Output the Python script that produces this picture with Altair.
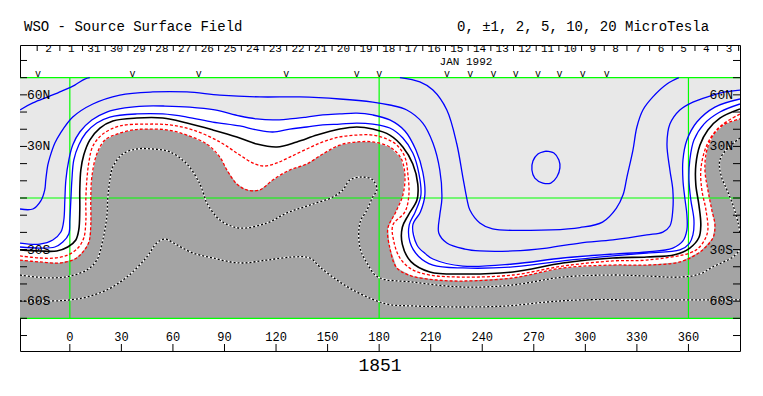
import altair as alt
import pandas as pd

# ---------------- data (longitude, latitude) ----------------
neutral_line = [(-29,-30.2), (-17.5,-30.8), (-7.6,-30.8), (-1.2,-28.5), (3.5,-24.4), (5.2,-18.6), (5.8,-7.0), (5.8,4.7), (6.4,16.3), (8.1,25.0), (11.6,33.7), (17.5,40.7), (25.0,44.8), (39.0,46.5), (54.1,46.5), (68.1,43.6), (83.2,39.6), (97.2,35.5), (108.8,31.4), (120.5,29.7), (132.1,32.6), (143.8,36.6), (157.1,40.1), (167.0,41.3), (176.3,40.1), (186.2,36.6), (193.8,29.7), (199.6,19.8), (202.5,8.1), (202.0,-1.2), (197.0,-9.9), (193.5,-17.0), (193.5,-27.0), (198.5,-37.0), (209.5,-43.0), (228.7,-44.2), (257.8,-43.0), (286.9,-37.8), (316.0,-34.9), (335.8,-34.3), (352.0,-33.0), (360.8,-29.1), (366.1,-23.0), (367.2,-15.7), (366.1,-4.1), (364.3,7.6), (364.3,19.2), (366.7,30.8), (371.3,39.6), (378.3,46.5), (390,51.8)]

plus1 = [(-29,-28.5), (-17.5,-29.1), (-8.7,-28.5), (-4.1,-25.6), (-0.6,-20.9), (0,-12.8), (0.6,-1.2), (1.2,10.5), (2.3,22.1), (5.2,30.8), (9.3,37.8), (15.7,43.6), (23.3,47.1), (39.0,48.9), (54.1,48.9), (68.1,47.1), (83.2,44.2), (98.9,41.9), (108.8,39.6), (118.1,38.4), (128.0,40.1), (137.9,41.3), (147.2,42.5), (157.1,43.0), (167.0,43.6), (176.3,43.0), (186.2,40.7), (193.8,34.9), (199.6,26.2), (203.1,14.5), (204.3,1.7), (201.0,-8.1), (197.5,-15.7), (197.9,-25.6), (203.0,-34.0), (211.3,-39.0), (228.7,-40.7), (257.8,-40.1), (286.9,-36.6), (316.0,-33.7), (335.8,-32.0), (355.0,-30.2), (360.5,-26.5), (362.6,-21.5), (363.2,-12.8), (361.4,-1.2), (360.3,10.5), (360.8,22.1), (363.2,33.7), (369.0,43.0), (378.3,50.0), (390,54.7)]

plus2 = [(-29,-26.2), (-17.5,-26.8), (-9.9,-24.4), (-5.2,-19.8), (-3.5,-12.8), (-2.9,-1.2), (-2.3,10.5), (-0.6,22.1), (1.7,30.8), (5.8,38.4), (12.8,45.4), (21.5,50.0), (32.0,52.4), (43.7,53.5), (55.3,53.5), (69.8,52.9), (84.4,51.2), (98.9,47.7), (108.8,46.0), (118.1,45.4), (128.0,46.0), (137.9,47.1), (147.2,48.3), (157.1,48.9), (167.0,49.4), (176.3,48.3), (186.2,45.4), (195.0,39.0), (201.4,27.9), (205.4,15.1), (206.6,1.7), (204.0,-8.1), (199.6,-15.7), (202.0,-27.3), (207.0,-32.5), (211.3,-35.5), (228.7,-39.6), (257.8,-38.4), (286.9,-34.9), (316.0,-32.6), (335.8,-31.4), (350.9,-29.1), (356.8,-25.0), (359.1,-18.6), (359.1,-9.9), (357.9,0), (356.8,10.5), (356.8,22.1), (359.1,33.7), (364.9,44.2), (375.4,52.9), (390,57.6)]

minus1 = [(-29,-33.7), (-17.5,-34.9), (-8.7,-34.9), (-1.2,-33.2), (4.7,-29.1), (8.1,-23.3), (9.3,-14.0), (9.3,-1.2), (9.9,10.5), (11.1,20.9), (13.4,30.2), (19.2,37.2), (29.1,41.9), (44.8,43.0), (58.2,42.5), (71.6,39.6), (87.3,32.6), (98.9,25.0), (107.7,19.8), (113.5,18.6), (120.5,20.4), (128.0,23.8), (137.9,28.5), (147.2,32.6), (157.1,35.5), (167.0,36.6), (176.3,36.6), (184.5,34.3), (190.3,30.8), (195.0,23.8), (196.7,14.0), (197.3,1.7), (195.0,-8.1), (188.0,-15.7), (188.5,-25.0), (192.1,-34.9), (199.0,-41.5), (209.5,-44.8), (228.7,-46.0), (257.8,-44.8), (286.9,-39.6), (316.0,-36.6), (335.8,-36.1), (360.8,-32.0), (366.0,-29.0), (369.6,-24.0), (371.3,-18.6), (370.2,-7.0), (367.8,4.7), (367.2,16.3), (369.6,27.9), (373.6,36.1), (379.5,42.5), (390,48.9)]

minus2 = [(-29,-36.1), (-17.5,-37.2), (-5.8,-37.8), (2.9,-35.5), (7.6,-31.4), (11.1,-25.6), (12.2,-15.7), (12.2,-0.6), (12.8,12.2), (15.7,25.6), (20.4,33.7), (27.4,37.2), (36.7,39.6), (44.8,40.1), (56.5,39.6), (68.1,36.6), (79.7,31.4), (87.3,23.8), (91.4,16.3), (97.2,8.1), (103.0,4.7), (110.6,4.7), (118.1,10.5), (128.0,16.3), (137.9,19.8), (147.2,25.6), (157.1,30.8), (167.0,32.6), (176.3,32.6), (186.2,29.7), (192.6,23.3), (195.0,13.4), (193.8,1.7), (189.7,-8.1), (185.1,-17.5), (186.0,-28.0), (190.3,-40.7), (199.0,-45.4), (213.6,-47.7), (228.7,-48.3), (257.8,-46.5), (286.9,-40.7), (316.0,-39.0), (335.8,-39.0), (355.0,-37.2), (366.7,-31.4), (374.2,-23.3), (375.4,-15.7), (373.6,-7.0), (371.3,4.7), (369.6,16.3), (370.7,27.9), (374.8,37.2), (381.2,43.0), (390,46.0)]

plus5 = [(-29,-6.4), (-21.5,-6.4), (-16.9,-1.7), (-14.6,4.7), (-14.0,10.5), (-12.8,19.2), (-11.6,23.8), (-8.7,32.0), (-5.8,37.2), (1.7,47.1), (13.4,54.7), (29.1,59.9), (48.3,61.7), (68.1,61.7), (87.3,59.9), (110.6,58.8), (133.9,58.8), (157.1,57.6), (176.3,55.8), (186.2,54.1), (196.1,51.2), (205.4,43.6), (211.3,32.0), (215.3,16.3), (216.5,-0.6), (215.3,-9.9), (214.7,-20.4), (219.4,-26.2), (229.9,-29.7), (238.6,-30.8), (257.8,-30.8), (277.6,-29.1), (296.8,-26.2), (316.0,-24.4), (335.8,-21.5), (345.1,-19.8), (349.2,-16.3), (350.9,-7.0), (350.9,4.7), (349.2,16.3), (347.5,31.4), (349.2,43.0), (355.0,51.2), (362.6,55.8), (372.5,59.3), (381.2,61.7), (390,62.8)]

plus10_right = [(192.1,70), (203.7,67.5), (211.3,62.8), (219.4,51.2), (225.2,31.4), (228.7,12.2), (231.1,-0.6), (232.8,-7.0), (238.6,-14.5), (246.0,-18.0), (262.0,-18.8), (280.0,-18.6), (296.8,-17.2), (310.0,-14.0), (318.0,-6.0), (322.0,2.0), (324.2,12.2), (327.7,27.9), (330.0,41.3), (333.5,51.2), (339.3,58.8), (347.5,66.3), (354.4,70)]

plus10_left = [(-29,51.2), (-21.5,55.3), (-11.6,59.3), (-4.7,62.2), (2.9,65.7), (8.7,69.2), (11.6,70)]

plus20_loop = [(277.0,27.3), (281.7,26.2), (284.6,22.1), (285.2,17.5), (283.4,12.2), (279.9,8.7), (275.3,8.7), (270.6,11.6), (268.9,16.3), (269.5,21.5), (272.4,25.6), (277.0,27.3)]

minus5 = [(-29,-44.8), (-19.2,-46.0), (-9.9,-46.5), (0,-45.4), (9.9,-41.9), (15.7,-36.1), (19.2,-24.4), (21.5,-11.1), (22.1,0), (23.3,10.5), (25.0,18.0), (30.8,25.6), (39.0,28.5), (48.3,28.5), (58.2,26.8), (68.1,19.8), (75.7,8.1), (78.6,0), (79.7,-2.9), (87.3,-12.8), (98.9,-17.5), (114.7,-14.5), (126.3,-8.7), (139.7,-4.1), (153.1,0.6), (158.9,4.7), (163.0,10.5), (170.5,12.2), (176.3,10.5), (178.7,4.7), (176.3,0.6), (172.9,-7.0), (168.8,-14.5), (168.8,-28.5), (172.9,-37.8), (179.3,-46.0), (199.6,-48.9), (228.7,-51.8), (257.8,-50.6), (286.9,-46.0), (316.0,-44.8), (335.8,-45.4), (355.0,-46.0), (366.7,-44.2), (374.2,-40.1), (385.9,-34.3), (390,-30.2)]

minus5_right = [(390,34.9), (383.0,29.1), (378.3,22.1), (378.9,13.4), (382.4,4.7), (385.9,-4.1), (388.8,-14.0), (390,-20.4)]

minus10 = [(-29,-59.9), (-9.9,-59.9), (0,-59.3), (9.9,-57.6), (21.5,-53.5), (33.2,-46.0), (44.8,-34.3), (50.6,-26.2), (55.3,-23.9), (62.3,-27.3), (71.6,-32.0), (83.2,-34.9), (98.9,-37.8), (114.7,-36.1), (129.8,-34.3), (139.7,-34.9), (145.5,-40.1), (155.4,-47.7), (164.7,-53.5), (176.3,-59.0), (186.0,-62.0), (199.6,-62.8), (228.7,-63.4), (254.3,-62.8), (277.6,-60.5), (296.8,-59.3), (335.8,-59.3), (374.2,-59.3), (390,-59.3)]

# observation markers ("v") along the top
marker_lons = [-18.5, 36.5, 75, 126, 167, 180, 219.5, 233, 246.5, 259.5, 272.5, 285, 298.5, 312.5]

# Carrington-rotation day labels (Jan 1992 runs right to left)
day_labels = ["2", "1"] + [str(d) for d in range(31, 2, -1)]
first_day_lon = -12.4
day_step = 13.2

lon_ticks = [0, 30, 60, 90, 120, 150, 180, 210, 240, 270, 300, 330, 360]
lat_ticks = [-80, -70, -60, -50, -40, -30, -20, -10, 0, 10, 20, 30, 40, 50, 60, 70, 80]
lat_label_vals = [60, 30, -30, -60]
lat_label_text = ["60N", "30N", "30S", "60S"]
green_lats = [70, 0, -70]
green_lons = [0, 180, 360]

title_left = "WSO - Source Surface Field"
title_right = "0, \u00b11, 2, 5, 10, 20 MicroTesla"
month_label = "JAN 1992"
rotation_label = "1851"

# ---------------- layout constants ----------------
LON0, LON1 = -29, 390
LAT0, LAT1 = -89, 89
MAP_S, MAP_N = -70, 70
W, H = 720, 306
FONT = "Liberation Mono"

lon_scale = alt.Scale(domain=[LON0, LON1], nice=False, zero=False)
lat_scale = alt.Scale(domain=[LAT0, LAT1], nice=False, zero=False)


def X(f="lon"):
    return alt.X(f"{f}:Q", scale=lon_scale, axis=None)


def Y(f="lat"):
    return alt.Y(f"{f}:Q", scale=lat_scale, axis=None)


def path_df(pts, name):
    return pd.DataFrame({"id": name, "k": list(range(len(pts))),
                         "lon": [p[0] for p in pts], "lat": [p[1] for p in pts]})


bg = alt.Chart(pd.DataFrame({"lon": [LON0], "lon2": [LON1], "lat": [MAP_S], "lat2": [MAP_N]})).mark_rect(
    color="#e8e8e8").encode(x=X(), x2="lon2:Q", y=Y(), y2="lat2:Q")


def fill_layer(pts, name, color):
    poly = pts + [(LON1, MAP_S), (LON0, MAP_S)]
    return alt.Chart(path_df(poly, name)).mark_line(fill=color, strokeOpacity=0, clip=True).encode(
        x=X(), y=Y(), order="k:Q")


white_fill = fill_layer(plus2, "w", "#ffffff")
gray_fill = fill_layer(minus2, "g", "#a4a4a4")

green_h = alt.Chart(pd.DataFrame({"lat": green_lats})).mark_rule(color="#00ff00", strokeWidth=1.2).encode(
    y=Y(), x=alt.value(0), x2=alt.value(W))
green_v = alt.Chart(pd.DataFrame({"lon": green_lons, "s": [MAP_S] * 3, "n": [MAP_N] * 3})).mark_rule(
    color="#00ff00", strokeWidth=1.2).encode(x=X(), y=Y("s"), y2="n:Q")


def line_layer(paths, color, width, dash=None):
    df = pd.concat([path_df(p, n) for n, p in paths.items()], ignore_index=True)
    kw = dict(color=color, strokeWidth=width, interpolate="catmull-rom", clip=True)
    if dash:
        kw["strokeDash"] = dash
    return alt.Chart(df).mark_line(**kw).encode(x=X(), y=Y(), detail="id:N", order="k:Q")


blue = line_layer({"p1": plus1, "p2": plus2, "p5": plus5, "p10r": plus10_right,
                   "p10l": plus10_left, "p20": plus20_loop}, "#0000ff", 1.3)
black = line_layer({"n0": neutral_line}, "#000000", 1.6)
red = line_layer({"m1": minus1, "m2": minus2}, "#ff0000", 1.3, [3, 2])
neg_paths = {"m5": minus5, "m5r": minus5_right, "m10": minus10}
dot_white = line_layer(neg_paths, "#ffffff", 1.3)
dot_black = line_layer(neg_paths, "#000000", 1.3, [2, 2])

lat_tick_df = pd.DataFrame({"lat": lat_ticks})
ticks_left = alt.Chart(lat_tick_df).mark_rule(color="black").encode(y=Y(), x=alt.value(0), x2=alt.value(7))
ticks_right = alt.Chart(lat_tick_df).mark_rule(color="black").encode(y=Y(), x=alt.value(W - 7), x2=alt.value(W))
ticks_bottom = alt.Chart(pd.DataFrame({"lon": lon_ticks})).mark_rule(color="black").encode(
    x=X(), y=alt.value(H - 7), y2=alt.value(H))

lon_lab = alt.Chart(pd.DataFrame({"lon": lon_ticks, "t": [str(v) for v in lon_ticks]})).mark_text(
    font=FONT, fontSize=12, baseline="middle", align="center").encode(x=X(), y=alt.value(292), text="t:N")

lat_lab_df = pd.DataFrame({"lat": lat_label_vals, "t": lat_label_text})
lat_lab_left = alt.Chart(lat_lab_df).mark_text(font=FONT, fontSize=13, baseline="middle", align="left").encode(
    y=Y(), x=alt.value(7), text="t:N")
lat_lab_right = alt.Chart(lat_lab_df).mark_text(font=FONT, fontSize=13, baseline="middle", align="right").encode(
    y=Y(), x=alt.value(W - 7), text="t:N")

day_df = pd.DataFrame({"lon": [first_day_lon + i * day_step for i in range(len(day_labels))], "t": day_labels})
tick_lons = [v - day_step / 2 for v in day_df["lon"]] + [day_df["lon"].iloc[-1] + day_step / 2 - 1]
day_text = alt.Chart(day_df).mark_text(font=FONT, fontSize=11, baseline="middle", align="center").encode(
    x=X(), y=alt.value(4), text="t:N")
day_ticks = alt.Chart(pd.DataFrame({"lon": tick_lons})).mark_rule(color="black").encode(
    x=X(), y=alt.value(0), y2=alt.value(6))

markers = alt.Chart(pd.DataFrame({"lon": marker_lons})).mark_text(
    font=FONT, fontSize=10, baseline="middle", align="center", text="v").encode(x=X(), y=alt.value(29))


def label(txt, px, py, size, align):
    return alt.Chart(pd.DataFrame({"t": [txt]})).mark_text(
        font=FONT, fontSize=size, baseline="middle", align=align).encode(
        x=alt.value(px), y=alt.value(py), text="t:N")


t1 = label(title_left, 4, -18, 14, "left")
t2 = label(title_right, 437, -18, 14, "left")
t3 = label(month_label, 446, 17, 11, "center")
t4 = label(rotation_label, 360, 321, 18, "center")

chart = alt.layer(
    bg, white_fill, gray_fill, green_h, green_v,
    blue, black, red, dot_white, dot_black,
    ticks_left, ticks_right, ticks_bottom, lon_lab, lat_lab_left, lat_lab_right,
    day_text, day_ticks, markers, t1, t2, t3, t4
).properties(
    width=W, height=H,
    padding={"left": 12, "top": 37, "right": 8, "bottom": 35},
    autosize=alt.AutoSizeParams(type="none"),
).configure_view(stroke="black", strokeWidth=1)

chart.save("out.html", embed_options={"renderer": "svg", "actions": False})
